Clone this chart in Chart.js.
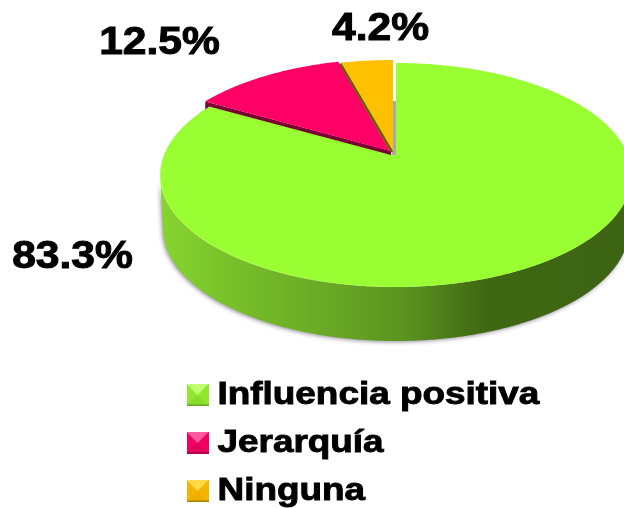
<!DOCTYPE html>
<html><head><meta charset="utf-8">
<style>html,body{margin:0;padding:0;background:#fff}canvas{display:block}</style>
<script src="https://cdn.jsdelivr.net/npm/chart.js@4"></script>
</head><body>
<canvas id="c" width="624" height="508"></canvas>
<script>
const categories = ['Influencia positiva', 'Jerarquía', 'Ninguna'];
const values = [83.3, 12.5, 4.2];
const colors = ['#99ff33', '#ff0066', '#ffc000'];
const sideColors = ['#5b9420', '#7a0033', '#6b5a00'];

// Perspective view of the pie: maps an arc angle (from the arc elements) to the page
const VIEW = {cx: 396, R: 232, yCentre: 155, yAmp: 80.75, k: -0.1786, depth: 54};
const SLICE_SHIFT = [[0, 0], [-6, -4], [-3, -3]];
const LABEL_POS = [[72.5, 268], [159.5, 54], [380.5, 40]];

function project(a, dx, dy) {
  const u = Math.cos(a), v = Math.sin(a), w = 1 + VIEW.k * v;
  return [VIEW.cx + VIEW.R * u / w + (dx || 0), (VIEW.yAmp * v + VIEW.yCentre) / w + (dy || 0)];
}
function apex(dx, dy) { return [VIEW.cx + dx, VIEW.yCentre + dy]; }

function sliceOutline(ctx, start, end, dx, dy) {
  const n = Math.max(8, Math.ceil((end - start) / 0.01));
  ctx.beginPath();
  ctx.moveTo(...apex(dx, dy));
  for (let i = 0; i <= n; i++) ctx.lineTo(...project(start + (end - start) * i / n, dx, dy));
  ctx.closePath();
}

function drawWall(ctx) {
  const a1 = Math.asin(-VIEW.k), a2 = Math.PI - a1, n = 300;
  const g = ctx.createLinearGradient(163, 0, 624, 0);
  g.addColorStop(0, '#85d42e');
  g.addColorStop(0.2, '#74ba28');
  g.addColorStop(0.36, '#69a825');
  g.addColorStop(0.52, '#5b9420');
  g.addColorStop(0.7, '#3f6813');
  g.addColorStop(1, '#3d6413');
  ctx.save();
  ctx.shadowColor = 'rgba(60,50,70,0.55)';
  ctx.shadowBlur = 4;
  ctx.shadowOffsetX = -1;
  ctx.shadowOffsetY = 1;
  ctx.fillStyle = g;
  ctx.beginPath();
  for (let i = 0; i <= n; i++) {
    const p = project(a1 + (a2 - a1) * i / n);
    i ? ctx.lineTo(p[0], p[1]) : ctx.moveTo(p[0], p[1]);
  }
  for (let i = n; i >= 0; i--) {
    const p = project(a1 + (a2 - a1) * i / n);
    ctx.lineTo(VIEW.cx + (p[0] - VIEW.cx) * 0.988, p[1] + VIEW.depth);
  }
  ctx.closePath();
  ctx.fill();
  ctx.restore();
}

// Legend text is a stretched heavy bold in the reference
const LEGEND_STRETCH = 1.19;
const baseFill = CanvasRenderingContext2D.prototype.fillText;
function heavyLegendText(t, x, y, m) {
  this.save();
  this.translate(x, y);
  this.scale(LEGEND_STRETCH, 1);
  this.strokeStyle = '#000';
  this.lineWidth = 0.9;
  baseFill.call(this, t, 0, 0);
  this.strokeText(t, 0, 0);
  this.restore();
}

const pie3d = {
  id: 'pie3d',
  beforeDraw(chart) {
    chart.ctx.fillText = heavyLegendText;
    chart.ctx.clip = function () {};
  },
  beforeDatasetsDraw(chart) {
    const ctx = chart.ctx;
    delete ctx.fillText;
    delete ctx.clip;
    const arcs = chart.getDatasetMeta(0).data;
    drawWall(ctx);

    // green top
    const g = arcs[0];
    sliceOutline(ctx, g.startAngle, g.endAngle, 0, 0);
    ctx.fillStyle = colors[0];
    ctx.fill();

    // light rim on the lit front-left edge
    ctx.save();
    const rim = ctx.createLinearGradient(170, 0, 430, 0);
    rim.addColorStop(0, 'rgba(190,255,90,0.7)');
    rim.addColorStop(1, 'rgba(190,255,90,0)');
    ctx.strokeStyle = rim;
    ctx.lineWidth = 1;
    ctx.beginPath();
    for (let i = 0; i <= 200; i++) {
      const p = project(Math.PI * 0.93 - (Math.PI * 0.55) * i / 200);
      i ? ctx.lineTo(p[0], p[1]) : ctx.moveTo(p[0], p[1]);
    }
    ctx.stroke();
    ctx.restore();

    // grey shadow strip beside the green cut
    ctx.fillStyle = '#a9a9a9';
    ctx.fillRect(VIEW.cx - 4, 101, 4, 54);

    // red
    const r = arcs[1], rs = SLICE_SHIFT[1];
    const tip = project(r.startAngle, rs[0], rs[1]), ra = apex(rs[0], rs[1]);
    ctx.fillStyle = sideColors[1];
    ctx.beginPath();
    ctx.moveTo(tip[0], tip[1]);
    ctx.lineTo(ra[0] + 1, ra[1]);
    ctx.lineTo(ra[0] + 1, ra[1] + 4);
    ctx.lineTo(tip[0] + 4, tip[1] + 5);
    ctx.lineTo(tip[0], tip[1] + 8);
    ctx.closePath();
    ctx.fill();
    sliceOutline(ctx, r.startAngle, r.endAngle, rs[0], rs[1]);
    ctx.fillStyle = colors[1];
    ctx.fill();

    // yellow
    const y = arcs[2], ys = SLICE_SHIFT[2];
    const yl = project(y.startAngle, ys[0], ys[1]), ya = apex(ys[0], ys[1]);
    sliceOutline(ctx, y.startAngle, y.endAngle, ys[0], ys[1]);
    ctx.fillStyle = colors[2];
    ctx.fill();
    ctx.strokeStyle = sideColors[2];
    ctx.lineWidth = 2.5;
    ctx.beginPath();
    ctx.moveTo(yl[0] - 1, yl[1] + 1);
    ctx.lineTo(ya[0] - 1, ya[1]);
    ctx.stroke();
    return false;
  },
  afterDraw(chart) {
    const ctx = chart.ctx;
    ctx.save();
    ctx.font = 'bold 38px "Liberation Sans"';
    ctx.fillStyle = '#000';
    ctx.strokeStyle = '#000';
    ctx.lineWidth = 1;
    ctx.textAlign = 'center';
    ctx.textBaseline = 'alphabetic';
    values.forEach((v, i) => {
      ctx.save();
      ctx.translate(LABEL_POS[i][0], LABEL_POS[i][1]);
      ctx.scale(1.12, 1);
      const t = v.toFixed(1) + '%';
      ctx.fillText(t, 0, 0);
      ctx.strokeText(t, 0, 0);
      ctx.restore();
    });
    ctx.restore();
  }
};

function marker(base, light, dark, edge) {
  const c = document.createElement('canvas');
  c.width = 22; c.height = 22;
  const x = c.getContext('2d');
  x.fillStyle = base; x.fillRect(0, 0, 22, 22);
  x.fillStyle = light;
  x.beginPath(); x.moveTo(0, 0); x.lineTo(22, 0); x.lineTo(11, 11); x.closePath(); x.fill();
  x.fillStyle = dark;
  x.beginPath(); x.moveTo(0, 22); x.lineTo(22, 22); x.lineTo(11, 11); x.closePath(); x.fill();
  x.strokeStyle = edge; x.lineWidth = 1.5;
  x.beginPath(); x.moveTo(0, 21.25); x.lineTo(22, 21.25); x.stroke();
  return c;
}
const markers = [
  marker('#8fe82e', '#c0ff70', '#86dc2a', '#6aa822'),
  marker('#f00060', '#ff5aa0', '#e0005a', '#a80048'),
  marker('#f5b400', '#ffd94a', '#eeb000', '#a88000')
];

new Chart(document.getElementById('c'), {
  type: 'pie',
  data: {labels: categories, datasets: [{data: values, backgroundColor: colors, borderWidth: 0}]},
  plugins: [pie3d],
  options: {
    responsive: false,
    animation: false,
    rotation: 0,
    layout: {padding: {left: 176, right: 128, bottom: -8.5}},
    plugins: {
      tooltip: {enabled: false},
      legend: {
        position: 'bottom',
        align: 'start',
        labels: {
          usePointStyle: true,
          pointStyleWidth: 9,
          padding: 17,
          color: '#000',
          font: {family: '"Liberation Sans"', weight: 'bold', size: 31},
          generateLabels: () => categories.map((text, i) => ({
            text, index: i, pointStyle: markers[i], fillStyle: colors[i],
            strokeStyle: 'transparent', lineWidth: 0, hidden: false, fontColor: '#000'
          }))
        }
      }
    }
  }
});
</script>
</body></html>
